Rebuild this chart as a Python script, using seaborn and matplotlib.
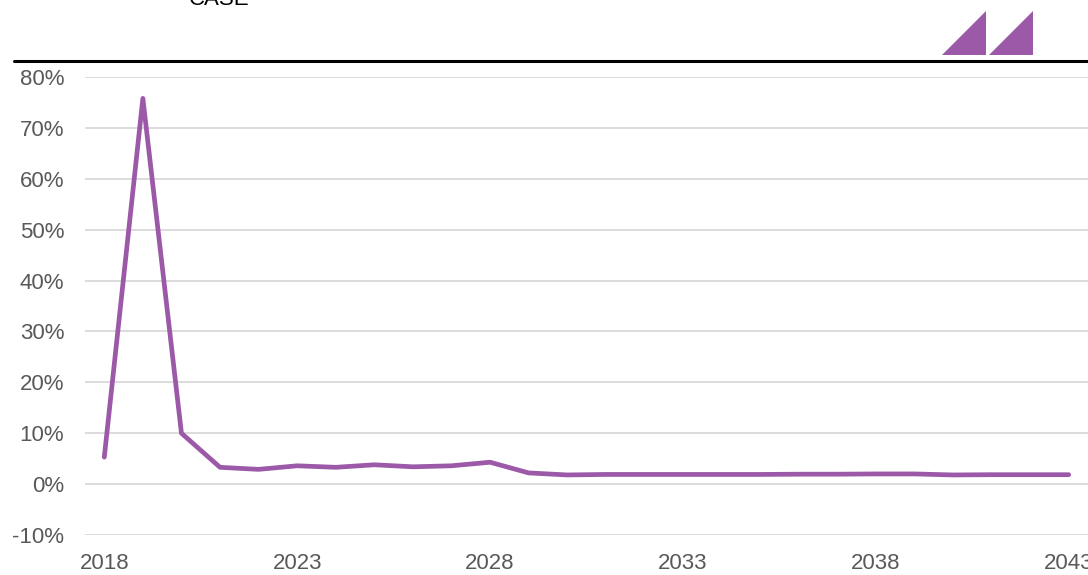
import pandas as pd
import numpy as np
import matplotlib.pyplot as plt
import seaborn as sns
from matplotlib.lines import Line2D
from matplotlib.patches import Polygon

# Data (annual % change)
years = list(range(2018, 2044))
growth = [5.3, 75.8, 10.0, 3.3, 2.9, 3.6, 3.3, 3.8, 3.4, 3.6, 4.3, 2.2, 1.8,
          1.9, 1.9, 1.9, 1.9, 1.9, 1.95, 1.95, 2.0, 2.0, 1.8, 1.85, 1.85, 1.85]
y_ticks = [-10, 0, 10, 20, 30, 40, 50, 60, 70, 80]
x_ticks = [2018, 2023, 2028, 2033, 2038, 2043]

purple = "#9B59A8"
grey_text = "#595959"

sns.set_style("white")
plt.rcParams['font.family'] = ['Liberation Sans Narrow', 'Liberation Sans', 'DejaVu Sans']

df = pd.DataFrame({"Year": years, "Growth": growth})

fig = plt.figure(figsize=(10.88, 5.75), dpi=100)
ax = fig.add_axes([85 / 1088, 40 / 575, 1003 / 1088, 458 / 575])

sns.lineplot(data=df, x="Year", y="Growth", color=purple, linewidth=3.4,
             solid_capstyle='round', solid_joinstyle='round', ax=ax, zorder=3)

ax.set_xlim(2017.5, 2043.5)
ax.set_ylim(-10, 80)
ax.set_yticks(y_ticks)
ax.set_yticklabels([f"{v}%" for v in y_ticks])
ax.set_xticks(x_ticks)
ax.set_xticklabels([str(v) for v in x_ticks])
ax.yaxis.grid(True, color="#D9D9D9", linewidth=1.3)
ax.xaxis.grid(False)
for s in ax.spines.values():
    s.set_visible(False)
ax.tick_params(axis='both', length=0, labelsize=16, labelcolor=grey_text)
ax.tick_params(axis='y', pad=15)
ax.tick_params(axis='x', pad=13)
ax.set_xlabel("")
ax.set_ylabel("")

# Title fragment cut off at the top edge
fig.text(219 / 1088, 1 - 5 / 575, "CASE", ha='center', va='baseline',
         fontsize=16, color='black', family=['Liberation Sans', 'DejaVu Sans'])

# Black rule under the header
fig.add_artist(Line2D([14 / 1088, 1.0], [1 - 61 / 575, 1 - 61 / 575],
                      transform=fig.transFigure, color='black', linewidth=2.2))

# Logo triangles
for x0 in (942, 989):
    pts = [(x0 / 1088, 1 - 55 / 575), ((x0 + 44) / 1088, 1 - 55 / 575),
           ((x0 + 44) / 1088, 1 - 11 / 575)]
    fig.add_artist(Polygon(pts, closed=True, transform=fig.transFigure,
                           facecolor=purple, edgecolor='none'))

plt.savefig("out.png", dpi=100)
